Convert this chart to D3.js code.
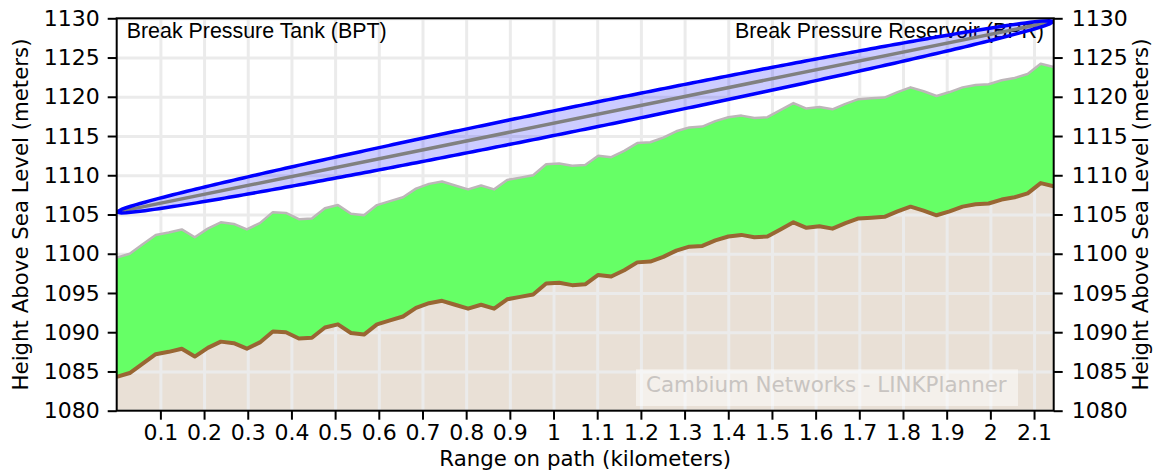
<!DOCTYPE html>
<html>
<head>
<meta charset="utf-8">
<script src="https://cdn.jsdelivr.net/npm/d3@7"></script>
<style>
  body { margin: 0; background: #fff; }
  svg { display: block; }
  .axis text { font-family: "DejaVu Sans", sans-serif; font-size: 22px; fill: #000; }
  .axis line { stroke: #000; stroke-width: 2; }
  .axis path { display: none; }
  .grid line { stroke: #ebebeb; stroke-width: 3; }
  .grid path { display: none; }
  .axis-title { font-family: "DejaVu Sans", sans-serif; font-size: 21.3px; fill: #000; }
  .site-label { font-family: "Liberation Sans", Arial, sans-serif; font-size: 21.4px; fill: #000; }
</style>
</head>
<body>
<div id="profile-chart"></div>
<script>
// terrain height along the path (meters), one sample every ~30 m
var terrainHeights = [
  1084.3, 1084.8, 1086.0, 1087.2, 1087.5, 1087.9, 1086.9, 1088.0, 1088.8, 1088.6,
  1087.9, 1088.7, 1090.1, 1090.0, 1089.2, 1089.3, 1090.6, 1091.0, 1089.9, 1089.7,
  1091.0, 1091.5, 1092.0, 1093.1, 1093.7, 1094.0, 1093.5, 1093.0, 1093.5, 1093.0,
  1094.2, 1094.5, 1094.8, 1096.2, 1096.3, 1096.0, 1096.1, 1097.3, 1097.1, 1097.9,
  1098.9, 1099.0, 1099.6, 1100.4, 1100.9, 1101.0, 1101.7, 1102.2, 1102.4, 1102.1,
  1102.2, 1103.1, 1104.0, 1103.3, 1103.5, 1103.2, 1103.9, 1104.5, 1104.6, 1104.7,
  1105.4, 1106.0, 1105.5, 1104.9, 1105.4, 1106.0, 1106.3, 1106.4, 1106.9, 1107.2,
  1107.7, 1109.0, 1108.6
];

// top of the clutter (trees) along the path (meters)
var clutterTops = [
  1099.5, 1100.0, 1101.2, 1102.4, 1102.7, 1103.1, 1102.1, 1103.2, 1104.0, 1103.8,
  1103.1, 1103.9, 1105.3, 1105.2, 1104.4, 1104.5, 1105.8, 1106.2, 1105.1, 1104.9,
  1106.2, 1106.7, 1107.2, 1108.3, 1108.9, 1109.2, 1108.7, 1108.2, 1108.7, 1108.2,
  1109.4, 1109.7, 1110.0, 1111.4, 1111.5, 1111.2, 1111.3, 1112.5, 1112.3, 1113.1,
  1114.1, 1114.2, 1114.8, 1115.6, 1116.1, 1116.2, 1116.9, 1117.4, 1117.6, 1117.3,
  1117.4, 1118.3, 1119.2, 1118.5, 1118.7, 1118.4, 1119.1, 1119.7, 1119.8, 1119.9,
  1120.6, 1121.2, 1120.7, 1120.1, 1120.6, 1121.2, 1121.5, 1121.6, 1122.1, 1122.4,
  1122.9, 1124.2, 1123.8
];

var pathLength = 2.145;                 // km
var antennaHeights = [1105.3, 1129.6];  // line of sight end points (m)
var fresnelMaxRadius = 1.58;            // m, at mid path

var xTickValues = [0.1, 0.2, 0.3, 0.4, 0.5, 0.6, 0.7, 0.8, 0.9, 1, 1.1, 1.2, 1.3, 1.4, 1.5, 1.6, 1.7, 1.8, 1.9, 2, 2.1];
var yTickValues = [1080, 1085, 1090, 1095, 1100, 1105, 1110, 1115, 1120, 1125, 1130];

var siteNames = ["Break Pressure Tank (BPT)", "Break Pressure Reservoir (BPR)"];
var xAxisTitle = "Range on path (kilometers)";
var yAxisTitle = "Height Above Sea Level (meters)";
var watermarkText = "Cambium Networks - LINKPlanner";

// define the constructor function
function ProfileChart() {
  var self = this;
  self.init();
}

// set up the svg and scales
ProfileChart.prototype.init = function () {
  var self = this;
  self.margin = { top: 18.3, right: 102.3, bottom: 64.3, left: 116.7 };
  self.width = 1156 - self.margin.left - self.margin.right;
  self.height = 475 - self.margin.top - self.margin.bottom;

  self.mainSVG = d3.select("#profile-chart").append("svg")
    .attr("width", 1156)
    .attr("height", 475);

  self.svg = self.mainSVG.append("g")
    .attr("transform", "translate(" + self.margin.left + "," + self.margin.top + ")");

  self.svg.append("clipPath")
    .attr("id", "plot-clip")
    .append("rect")
    .attr("width", self.width)
    .attr("height", self.height);

  self.xScale = d3.scaleLinear().domain([0, pathLength]).range([0, self.width]);
  self.yScale = d3.scaleLinear().domain([1080, 1130]).range([self.height, 0]);
}

ProfileChart.prototype.update = function () {
  var self = this;
  var xScale = self.xScale, yScale = self.yScale;

  var profile = terrainHeights.map(function (h, i) {
    return { d: i * pathLength / (terrainHeights.length - 1), ground: h, clutter: clutterTops[i] };
  });

  var plot = self.svg.append("g").attr("clip-path", "url(#plot-clip)");

  // terrain fill down to the bottom
  plot.append("path")
    .datum(profile)
    .attr("fill", "#e9e0d6")
    .attr("d", d3.area()
      .x(function (d) { return xScale(d.d); })
      .y0(self.height)
      .y1(function (d) { return yScale(d.ground); }));

  // grid
  plot.append("g")
    .attr("class", "grid")
    .attr("transform", "translate(0," + self.height + ")")
    .call(d3.axisBottom(xScale).tickValues(xTickValues).tickSize(-self.height).tickFormat(""));
  plot.append("g")
    .attr("class", "grid")
    .call(d3.axisLeft(yScale).tickValues(yTickValues).tickSize(-self.width).tickFormat(""));

  // clutter band between ground and clutter top
  plot.append("path")
    .datum(profile)
    .attr("fill", "#66ff66")
    .attr("d", d3.area()
      .x(function (d) { return xScale(d.d); })
      .y0(function (d) { return yScale(d.ground); })
      .y1(function (d) { return yScale(d.clutter); }));

  plot.append("path")
    .datum(profile)
    .attr("fill", "none")
    .attr("stroke", "#bdb6b9")
    .attr("stroke-width", 2.5)
    .attr("stroke-linejoin", "round")
    .attr("d", d3.line()
      .x(function (d) { return xScale(d.d); })
      .y(function (d) { return yScale(d.clutter); }));

  plot.append("path")
    .datum(profile)
    .attr("fill", "none")
    .attr("stroke", "#996633")
    .attr("stroke-width", 4)
    .attr("stroke-linejoin", "round")
    .attr("d", d3.line()
      .x(function (d) { return xScale(d.d); })
      .y(function (d) { return yScale(d.ground); }));

  // watermark
  plot.append("rect")
    .attr("x", 636 - self.margin.left)
    .attr("y", 369.3 - self.margin.top)
    .attr("width", 382)
    .attr("height", 36.7)
    .attr("fill", "#fff")
    .attr("fill-opacity", 0.5);
  plot.append("text")
    .attr("x", 646 - self.margin.left)
    .attr("y", 391.7 - self.margin.top)
    .attr("font-family", "DejaVu Sans, sans-serif")
    .attr("font-size", 21.4)
    .attr("fill", "#c8c4c1")
    .text(watermarkText);

  // site names
  plot.append("text")
    .attr("class", "site-label")
    .attr("x", 126.7 - self.margin.left)
    .attr("y", 37.7 - self.margin.top)
    .text(siteNames[0]);
  plot.append("text")
    .attr("class", "site-label")
    .attr("x", 1044 - self.margin.left)
    .attr("y", 37.7 - self.margin.top)
    .style("text-anchor", "end")
    .text(siteNames[1]);

  // fresnel zone around the line of sight
  var steps = d3.range(0, 201).map(function (k) { return k / 200; });
  var los = function (t) { return antennaHeights[0] + t * (antennaHeights[1] - antennaHeights[0]); };
  var radius = function (t) { return fresnelMaxRadius * Math.sqrt(Math.max(0, 4 * t * (1 - t))); };
  var upper = steps.map(function (t) { return [t * pathLength, los(t) + radius(t)]; });
  var lower = steps.slice().reverse().map(function (t) { return [t * pathLength, los(t) - radius(t)]; });
  var zoneLine = d3.line()
    .x(function (p) { return xScale(p[0]); })
    .y(function (p) { return yScale(p[1]); });

  plot.append("path")
    .attr("d", zoneLine(upper.concat(lower)) + "Z")
    .attr("fill", "#0000ff")
    .attr("fill-opacity", 0.2)
    .attr("stroke", "none");

  plot.append("path")
    .attr("d", zoneLine([[0, antennaHeights[0]], [pathLength, antennaHeights[1]]]))
    .attr("stroke", "#808080")
    .attr("stroke-width", 3.5)
    .attr("fill", "none");

  plot.append("path")
    .attr("d", zoneLine(upper.concat(lower)) + "Z")
    .attr("fill", "none")
    .attr("stroke", "#0000ff")
    .attr("stroke-width", 3.5)
    .attr("stroke-linejoin", "round");

  // axes
  self.svg.append("g")
    .attr("class", "axis")
    .attr("transform", "translate(0," + self.height + ")")
    .call(d3.axisBottom(xScale).tickValues(xTickValues).tickSize(9).tickSizeOuter(0).tickPadding(5).tickFormat(d3.format("")))
    .attr("font-size", null).attr("font-family", null);

  self.svg.append("g")
    .attr("class", "axis")
    .call(d3.axisLeft(yScale).tickValues(yTickValues).tickSize(9).tickSizeOuter(0).tickPadding(8).tickFormat(d3.format("d")))
    .attr("font-size", null).attr("font-family", null);

  self.svg.append("g")
    .attr("class", "axis")
    .attr("transform", "translate(" + self.width + ",0)")
    .call(d3.axisRight(yScale).tickValues(yTickValues).tickSize(9).tickSizeOuter(0).tickPadding(9).tickFormat(d3.format("d")))
    .attr("font-size", null).attr("font-family", null);

  // frame
  self.svg.append("rect")
    .attr("width", self.width)
    .attr("height", self.height)
    .attr("fill", "none")
    .attr("stroke", "#000")
    .attr("stroke-width", 2);

  // axis titles
  self.svg.append("text")
    .attr("class", "axis-title")
    .attr("transform", "translate(" + (28 - self.margin.left) + "," + (self.height / 2) + ") rotate(-90)")
    .style("text-anchor", "middle")
    .text(yAxisTitle);

  self.svg.append("text")
    .attr("class", "axis-title")
    .attr("transform", "translate(" + (1148 - self.margin.left) + "," + (self.height / 2) + ") rotate(-90)")
    .style("text-anchor", "middle")
    .text(yAxisTitle);

  self.svg.append("text")
    .attr("class", "axis-title")
    .attr("x", self.width / 2)
    .attr("y", 466 - self.margin.top)
    .style("text-anchor", "middle")
    .text(xAxisTitle);
}

var chart = new ProfileChart();
chart.update();
</script>
</body>
</html>
